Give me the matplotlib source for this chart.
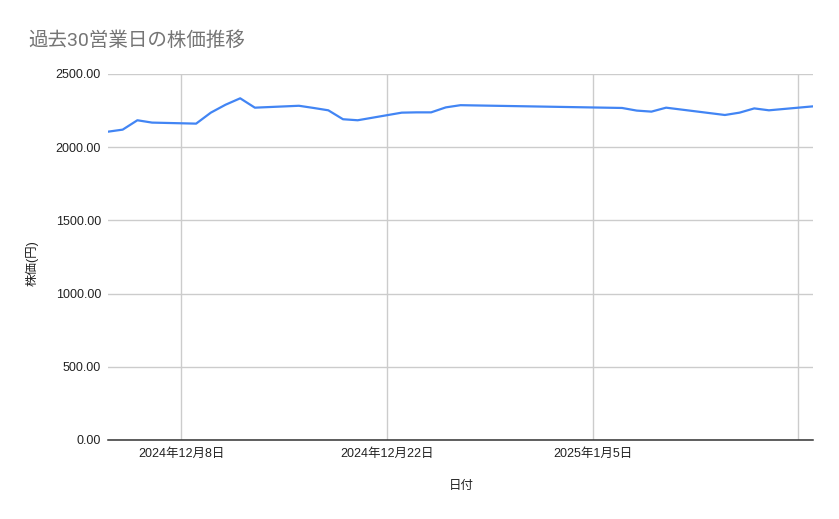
import datetime as dt

import matplotlib
matplotlib.use("Agg")
from matplotlib import pyplot as plt

plt.rcParams["font.family"] = ["Liberation Sans", "Noto Sans CJK JP", "DejaVu Sans"]

# 株価データ（営業日のみ）
dates = [
    "2024-12-03", "2024-12-04", "2024-12-05", "2024-12-06",
    "2024-12-09", "2024-12-10", "2024-12-11", "2024-12-12", "2024-12-13",
    "2024-12-16", "2024-12-17", "2024-12-18", "2024-12-19", "2024-12-20",
    "2024-12-23", "2024-12-24", "2024-12-25", "2024-12-26", "2024-12-27",
    "2025-01-07", "2025-01-08", "2025-01-09", "2025-01-10",
    "2025-01-14", "2025-01-15", "2025-01-16", "2025-01-17", "2025-01-20",
]
prices = [
    2106, 2120, 2184, 2168,
    2161, 2236, 2290, 2334, 2270,
    2283, 2268, 2252, 2191, 2184,
    2236, 2238, 2238, 2272, 2287,
    2268, 2250, 2243, 2270,
    2220, 2236, 2265, 2252, 2279,
]
tick_dates = ["2024-12-08", "2024-12-22", "2025-01-05", "2025-01-19"]
tick_labels = ["2024年12月8日", "2024年12月22日", "2025年1月5日", ""]
y_ticks = [0, 500, 1000, 1500, 2000, 2500]

TITLE = "過去30営業日の株価推移"
X_LABEL = "日付"
Y_LABEL = "株価(円)"

W, H = 839, 519
x = [dt.datetime.strptime(d, "%Y-%m-%d") for d in dates]
xt = [dt.datetime.strptime(d, "%Y-%m-%d") for d in tick_dates]

fig = plt.figure(figsize=(W / 100, H / 100), dpi=100)
ax = fig.add_axes([108 / W, 1 - 440 / H, (813 - 108) / W, (440 - 74) / H])

ax.plot(x, prices, color="#4285F4", linewidth=1.6, solid_joinstyle="round", zorder=3)

ax.set_xlim(x[0], x[-1])
ax.set_ylim(0, 2500)
ax.set_yticks(y_ticks)
ax.set_yticklabels([f"{v:.2f}" for v in y_ticks])
ax.set_xticks(xt)
ax.set_xticklabels(tick_labels)

ax.grid(True, color="#cccccc", linewidth=1)
ax.set_axisbelow(True)
for side in ("top", "right", "left"):
    ax.spines[side].set_visible(False)
ax.spines["bottom"].set_color("#333333")
ax.spines["bottom"].set_linewidth(1.1)
ax.spines["bottom"].set_zorder(4)
ax.tick_params(axis="both", length=0, labelsize=9, labelcolor="#222222")
ax.tick_params(axis="y", pad=5)
ax.tick_params(axis="x", pad=5.5)

fig.text(28 / W, 1 - 46 / H, TITLE, fontsize=14, color="#757575", ha="left", va="baseline",
         family=["Roboto", "Noto Sans CJK JP"])
fig.text(461 / W, 1 - 486 / H, X_LABEL, fontsize=9, color="#222222", ha="center", va="center")
fig.text(32 / W, 1 - 263 / H, Y_LABEL, fontsize=9, color="#222222", ha="center", va="center",
         rotation=90)

plt.savefig("out.png", dpi=100)
plt.close()
